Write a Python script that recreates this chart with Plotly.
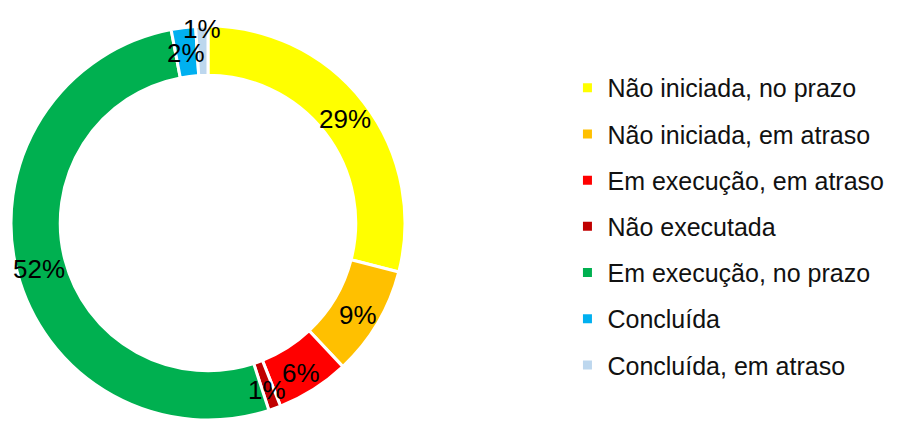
import math
import plotly.graph_objects as go

categories = ["Não iniciada, no prazo", "Não iniciada, em atraso", "Em execução, em atraso",
              "Não executada", "Em execução, no prazo", "Concluída", "Concluída, em atraso"]
values = [29, 9, 6, 1, 52, 2, 1]
colors = ["#FFFF00", "#FFC000", "#FF0000", "#C00000", "#00B050", "#00B0F0", "#BDD7EE"]

W, H = 898, 421
FONT = "Liberation Sans, Arial, sans-serif"

# page offset of the plot (browser body margin) in pixels
OX, OY = 8, 7
# pie geometry in pixels as seen in the reference
CX, CY, R_OUT, HOLE = 208, 222, 197, 0.75
dom_x = [(CX - R_OUT - OX) / W, (CX + R_OUT - OX) / W]
dom_y = [1 - (CY + R_OUT - OY) / H, 1 - (CY - R_OUT - OY) / H]

fig = go.Figure()
fig.add_trace(go.Pie(
    labels=categories, values=values, sort=False, direction="clockwise", rotation=0,
    hole=HOLE, marker=dict(colors=colors, line=dict(color="white", width=3)),
    textinfo="none",
    domain=dict(x=dom_x, y=dom_y),
    showlegend=False, hoverinfo="label+percent",
))
for i, (c, col) in enumerate(zip(categories, colors)):
    fig.add_trace(go.Scatter(
        x=[None], y=[None], mode="markers", name=c, legendgroup=f"g{i}",
        marker=dict(symbol="square", size=9, color=col), showlegend=True,
    ))

# data labels: placed at each slice's bisector, computed from the values
total = sum(values)
r_lab = 174
radius_factor = {6: R_OUT / r_lab}  # last tiny slice label sits on the outer edge (as in reference)
cum = 0
annotations = []
for i, v in enumerate(values):
    mid = (cum + v / 2) / total
    cum += v
    ang = 2 * math.pi * mid
    r = r_lab * radius_factor.get(i, 1.0)
    px = CX + r * math.sin(ang) - OX
    py = CY - r * math.cos(ang) - OY
    annotations.append(dict(
        x=px / W, y=1 - py / H, xref="paper", yref="paper",
        text=f"{round(100 * v / total)}%", showarrow=False,
        font=dict(size=26, color="black", family=FONT),
        xanchor="center", yanchor="middle", yshift=-3,
    ))

fig.update_layout(
    width=W, height=H, margin=dict(l=0, r=0, t=0, b=0),
    paper_bgcolor="white", plot_bgcolor="white",
    xaxis=dict(visible=False), yaxis=dict(visible=False),
    annotations=annotations,
    legend=dict(x=0.623, y=0.481, xanchor="left", yanchor="middle", tracegroupgap=10.7,
                font=dict(size=25, color="#111111", family=FONT), itemwidth=30,
                bgcolor="rgba(0,0,0,0)"),
    font=dict(family=FONT),
)
fig.write_html("out.html")
